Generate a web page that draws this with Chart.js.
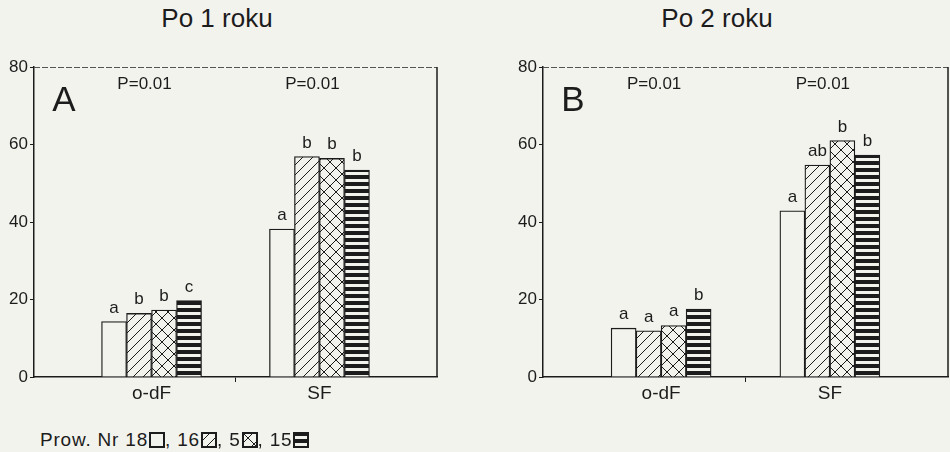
<!DOCTYPE html>
<html>
<head>
<meta charset="utf-8">
<script src="https://cdn.jsdelivr.net/npm/chart.js@4"></script>
<style>
  body { margin: 0; background: #f3f3ee; width: 950px; height: 452px; position: relative; overflow: hidden;
         font-family: "Liberation Sans", Arial, sans-serif; color: #1c1c1c; }
  .tytul { position: absolute; top: 3px; width: 240px; text-align: center; font-size: 26px; }
  .wykres { position: absolute; top: 0; width: 475px; height: 410px; }
  #legenda { position: absolute; left: 40px; top: 429px; font-size: 19px; letter-spacing: 0.8px; }
  #legenda canvas { vertical-align: -2px; margin-left: 1px; }
</style>
</head>
<body>
<div class="tytul" style="left:97px">Po 1 roku</div>
<div class="tytul" style="left:597px">Po 2 roku</div>
<div class="wykres" style="left:0"><canvas id="wykresA" width="475" height="410"></canvas></div>
<div class="wykres" style="left:475px"><canvas id="wykresB" width="475" height="410"></canvas></div>
<div id="legenda"></div>

<script>
// dane
const kategorie = ['o-dF', 'SF']
const proweniencje = ['18', '16', '5', '15']
const yTicks = [0, 20, 40, 60, 80]

const rok1_18 = [14.3, 38.2]
const rok1_16 = [16.4, 56.9]
const rok1_5 = [17.3, 56.4]
const rok1_15 = [19.7, 53.4]

const rok2_18 = [12.6, 42.9]
const rok2_16 = [11.9, 54.7]
const rok2_5 = [13.3, 61.0]
const rok2_15 = [17.5, 57.3]

// litery istotności: [kategoria][proweniencja]
const litery1 = [['a', 'b', 'b', 'c'], ['a', 'b', 'b', 'b']]
const litery2 = [['a', 'a', 'a', 'b'], ['a', 'ab', 'b', 'b']]
const pWartosci = ['P=0.01', 'P=0.01']

const TLO = '#f3f3ee'
const TUSZ = '#1c1c1c'
const FONT = '"Liberation Sans", Arial, sans-serif'

// WZORY KRESKOWANIA
function wzor(typ) {
    const c = document.createElement('canvas')
    const ctx = c.getContext('2d')
    if (typ === 'pusty') {
        c.width = c.height = 4
        ctx.fillStyle = TLO
        ctx.fillRect(0, 0, 4, 4)
    } else if (typ === 'ukos') {
        c.width = c.height = 10
        ctx.fillStyle = TLO
        ctx.fillRect(0, 0, 10, 10)
        ctx.strokeStyle = TUSZ
        ctx.lineWidth = 1
        ctx.beginPath()
        ctx.moveTo(-1, 11); ctx.lineTo(11, -1)
        ctx.moveTo(-1, 1); ctx.lineTo(1, -1)
        ctx.moveTo(9, 11); ctx.lineTo(11, 9)
        ctx.stroke()
    } else if (typ === 'krata') {
        c.width = c.height = 12
        ctx.fillStyle = TLO
        ctx.fillRect(0, 0, 12, 12)
        ctx.strokeStyle = TUSZ
        ctx.lineWidth = 1
        ctx.beginPath()
        ctx.moveTo(-1, 13); ctx.lineTo(13, -1)
        ctx.moveTo(-1, -1); ctx.lineTo(13, 13)
        ctx.stroke()
    } else {
        c.width = 8
        c.height = 7
        ctx.fillStyle = TLO
        ctx.fillRect(0, 0, 8, 7)
        ctx.fillStyle = TUSZ
        ctx.fillRect(0, 0, 8, 4)
    }
    return ctx.createPattern(c, 'repeat')
}

const typyWzorow = ['pusty', 'ukos', 'krata', 'poziom']

// PLUGIN: ramka, litery nad słupkami, wartości P, litera panelu
const opisy = {
    id: 'opisy',
    afterDatasetsDraw(chart, args, opts) {
        const { ctx, chartArea } = chart
        const x = chart.scales.x
        ctx.save()
        // ramka
        ctx.strokeStyle = '#555'
        ctx.lineWidth = 1
        ctx.setLineDash([6, 2])
        ctx.beginPath()
        ctx.moveTo(chartArea.left, chartArea.top + 0.5)
        ctx.lineTo(chartArea.right, chartArea.top + 0.5)
        ctx.stroke()
        ctx.setLineDash([])
        ctx.strokeStyle = TUSZ
        ctx.lineWidth = 1.5
        ctx.beginPath()
        ctx.moveTo(chartArea.right, chartArea.top)
        ctx.lineTo(chartArea.right, chartArea.bottom)
        ctx.stroke()

        ctx.fillStyle = TUSZ
        ctx.textAlign = 'center'
        ctx.textBaseline = 'alphabetic'
        ctx.font = '17px ' + FONT
        chart.data.datasets.forEach((ds, i) => {
            chart.getDatasetMeta(i).data.forEach((bar, j) => {
                ctx.fillText(opts.litery[j][i], bar.x, bar.y - 9)
            })
        })
        kategorie.forEach((k, j) => {
            ctx.fillText(opts.p[j], x.getPixelForValue(j) - 7, chartArea.top + 22)
        })
        ctx.font = '35px ' + FONT
        ctx.fillText(opts.panel, chartArea.left + 30, chartArea.top + 44)
        ctx.restore()
    }
}

function zbudujWykres(id, serie, litery, panel, lewy, prawy) {
    const datasets = serie.map((wartosci, i) => ({
        label: proweniencje[i],
        data: wartosci.map((v, j) => ({ x: j, y: v })),
        backgroundColor: wzor(typyWzorow[i]),
        borderColor: TUSZ,
        borderWidth: 1.3,
        barThickness: 25
    }))

    new Chart(document.querySelector(id), {
        type: 'bar',
        data: { datasets },
        options: {
            responsive: false,
            animation: false,
            layout: { padding: { top: 67, left: lewy, right: prawy, bottom: 0 } },
            plugins: {
                legend: { display: false },
                tooltip: { enabled: false },
                opisy: { litery, p: pWartosci, panel }
            },
            scales: {
                x: {
                    type: 'linear',
                    offset: false,
                    min: -0.7,
                    max: 1.7,
                    afterBuildTicks: s => { s.ticks = [{ value: 0 }, { value: 0.5 }, { value: 1 }] },
                    afterFit: s => { s.height = 33 },
                    ticks: {
                        callback: v => kategorie[v] || '',
                        color: TUSZ,
                        font: { family: FONT, size: 19 },
                        padding: 0,
                        maxRotation: 0,
                        autoSkip: false
                    },
                    grid: {
                        offset: false,
                        drawOnChartArea: false,
                        tickLength: 5,
                        tickColor: c => c.tick && c.tick.value === 0.5 ? TUSZ : 'rgba(0,0,0,0)'
                    },
                    border: { color: TUSZ, width: 1.5 }
                },
                y: {
                    min: 0,
                    max: 80,
                    afterBuildTicks: s => { s.ticks = yTicks.map(v => ({ value: v })) },
                    afterFit: s => { s.width = 34 },
                    ticks: {
                        color: TUSZ,
                        font: { family: FONT, size: 17 },
                        padding: 2
                    },
                    grid: { drawOnChartArea: false, tickLength: 4, tickColor: TUSZ },
                    border: { color: TUSZ, width: 1.5 }
                }
            }
        },
        plugins: [opisy]
    })
}

zbudujWykres('#wykresA', [rok1_18, rok1_16, rok1_5, rok1_15], litery1, 'A', 0, 38)
zbudujWykres('#wykresB', [rok2_18, rok2_16, rok2_5, rok2_15], litery2, 'B', 34, 2)

// LEGENDA Z WZORAMI
const legenda = document.querySelector('#legenda')
legenda.append('Prow. Nr ')
proweniencje.forEach((p, i) => {
    legenda.append((i ? ', ' : '') + p)
    const c = document.createElement('canvas')
    c.width = c.height = 16
    const ctx = c.getContext('2d')
    ctx.fillStyle = wzor(typyWzorow[i])
    ctx.fillRect(0, 0, 16, 16)
    ctx.strokeStyle = TUSZ
    ctx.lineWidth = 2
    ctx.strokeRect(1, 1, 14, 14)
    legenda.append(c)
})
</script>
</body>
</html>
